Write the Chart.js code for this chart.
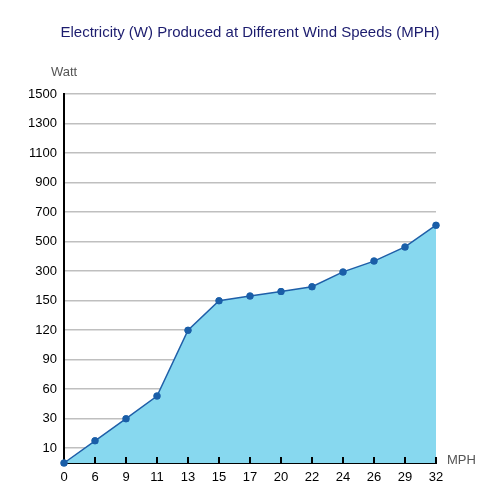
<!DOCTYPE html>
<html>
<head>
<meta charset="utf-8">
<script src="https://cdn.jsdelivr.net/npm/chart.js@4.4.1/dist/chart.umd.min.js"></script>
<style>
html,body{margin:0;padding:0;background:#fff;}
#wrap{width:500px;height:500px;}
</style>
</head>
<body>
<div id="wrap"><canvas id="c" width="500" height="500"></canvas></div>
<script>
// Wind speed categories (MPH)
const windSpeeds = ['0','6','9','11','13','15','17','20','22','24','26','29','32'];
// Electricity produced (W)
const watts = [0, 15, 30, 53, 120, 150, 173, 196, 221, 296, 368, 464, 611];
// Y tick labels (evenly spaced on the axis, non-linear values)
const yTickLabels = [10, 30, 60, 90, 120, 150, 300, 500, 700, 900, 1100, 1300, 1500];

const title = 'Electricity (W) Produced at Different Wind Speeds (MPH)';
const yTitle = 'Watt';
const xTitle = 'MPH';

// Axis positions of the tick labels: 0 at the base, 10 half a step above, then one step each
const knotVals = [0].concat(yTickLabels);
const knotPos = [0].concat(yTickLabels.map((_, i) => i + 0.5));
function toAxis(w) {
  for (let i = 1; i < knotVals.length; i++) {
    if (w <= knotVals[i]) {
      const t = (w - knotVals[i - 1]) / (knotVals[i] - knotVals[i - 1]);
      return knotPos[i - 1] + t * (knotPos[i] - knotPos[i - 1]);
    }
  }
  return knotPos[knotPos.length - 1];
}

const textPlugin = {
  id: 'texts',
  afterDraw(chart) {
    const ctx = chart.ctx;
    const area = chart.chartArea;
    const xs = chart.scales.x;
    ctx.save();
    // inner tick marks on the x axis
    ctx.strokeStyle = '#000';
    ctx.lineWidth = 2;
    xs.ticks.forEach((t, i) => {
      if (i === 0) return;
      const px = xs.getPixelForTick(i);
      ctx.beginPath();
      ctx.moveTo(px, area.bottom);
      ctx.lineTo(px, area.bottom - 6);
      ctx.stroke();
    });
    // points back on top of the axes
    chart.getDatasetMeta(0).data.forEach(p => p.draw(ctx));
    ctx.textAlign = 'center';
    ctx.textBaseline = 'middle';
    ctx.fillStyle = '#1c1c6e';
    ctx.font = '15px "Liberation Sans", Arial, sans-serif';
    ctx.fillText(title, 250, 33);
    ctx.fillStyle = '#555';
    ctx.font = '13px "Liberation Sans", Arial, sans-serif';
    ctx.fillText(yTitle, area.left, 72);
    ctx.textAlign = 'left';
    ctx.fillText(xTitle, area.right + 11, 460);
    ctx.restore();
  }
};

new Chart(document.getElementById('c'), {
  type: 'line',
  data: {
    labels: windSpeeds,
    datasets: [{
      data: watts.map(toAxis),
      borderColor: '#1f5fa8',
      borderWidth: 1.5,
      backgroundColor: '#87d8ef',
      fill: 'origin',
      pointRadius: 3.5,
      pointBackgroundColor: '#1a5ea8',
      pointBorderColor: '#1a5ea8',
      pointBorderWidth: 0,
      tension: 0,
      clip: 6
    }]
  },
  options: {
    responsive: false,
    animation: false,
    devicePixelRatio: 1,
    layout: { padding: { top: 94, right: 64, bottom: 0, left: 0 } },
    plugins: { legend: { display: false }, tooltip: { enabled: false }, title: { display: false } },
    scales: {
      x: {
        type: 'category',
        offset: false,
        z: 1,
        grid: { display: false, drawTicks: false },
        border: { display: true, color: '#000', width: 2 },
        ticks: {
          color: '#000',
          padding: 7,
          maxRotation: 0,
          autoSkip: false,
          font: { family: '"Liberation Sans", Arial, sans-serif', size: 13 }
        },
        afterFit(s) { s.height = 37; }
      },
      y: {
        type: 'linear',
        min: 0,
        max: yTickLabels.length - 0.5,
        z: 1,
        afterBuildTicks(s) { s.ticks = yTickLabels.map((_, i) => ({ value: i + 0.5 })); },
        grid: { color: 'rgba(60,60,60,0.33)', lineWidth: 1.5, drawTicks: false },
        border: { display: true, color: '#000', width: 2 },
        ticks: {
          color: '#000',
          padding: 7,
          font: { family: '"Liberation Sans", Arial, sans-serif', size: 13 },
          callback(v, i) { return String(yTickLabels[i]); }
        },
        afterFit(s) { s.width = 64; }
      }
    }
  },
  plugins: [textPlugin]
});
</script>
</body>
</html>
